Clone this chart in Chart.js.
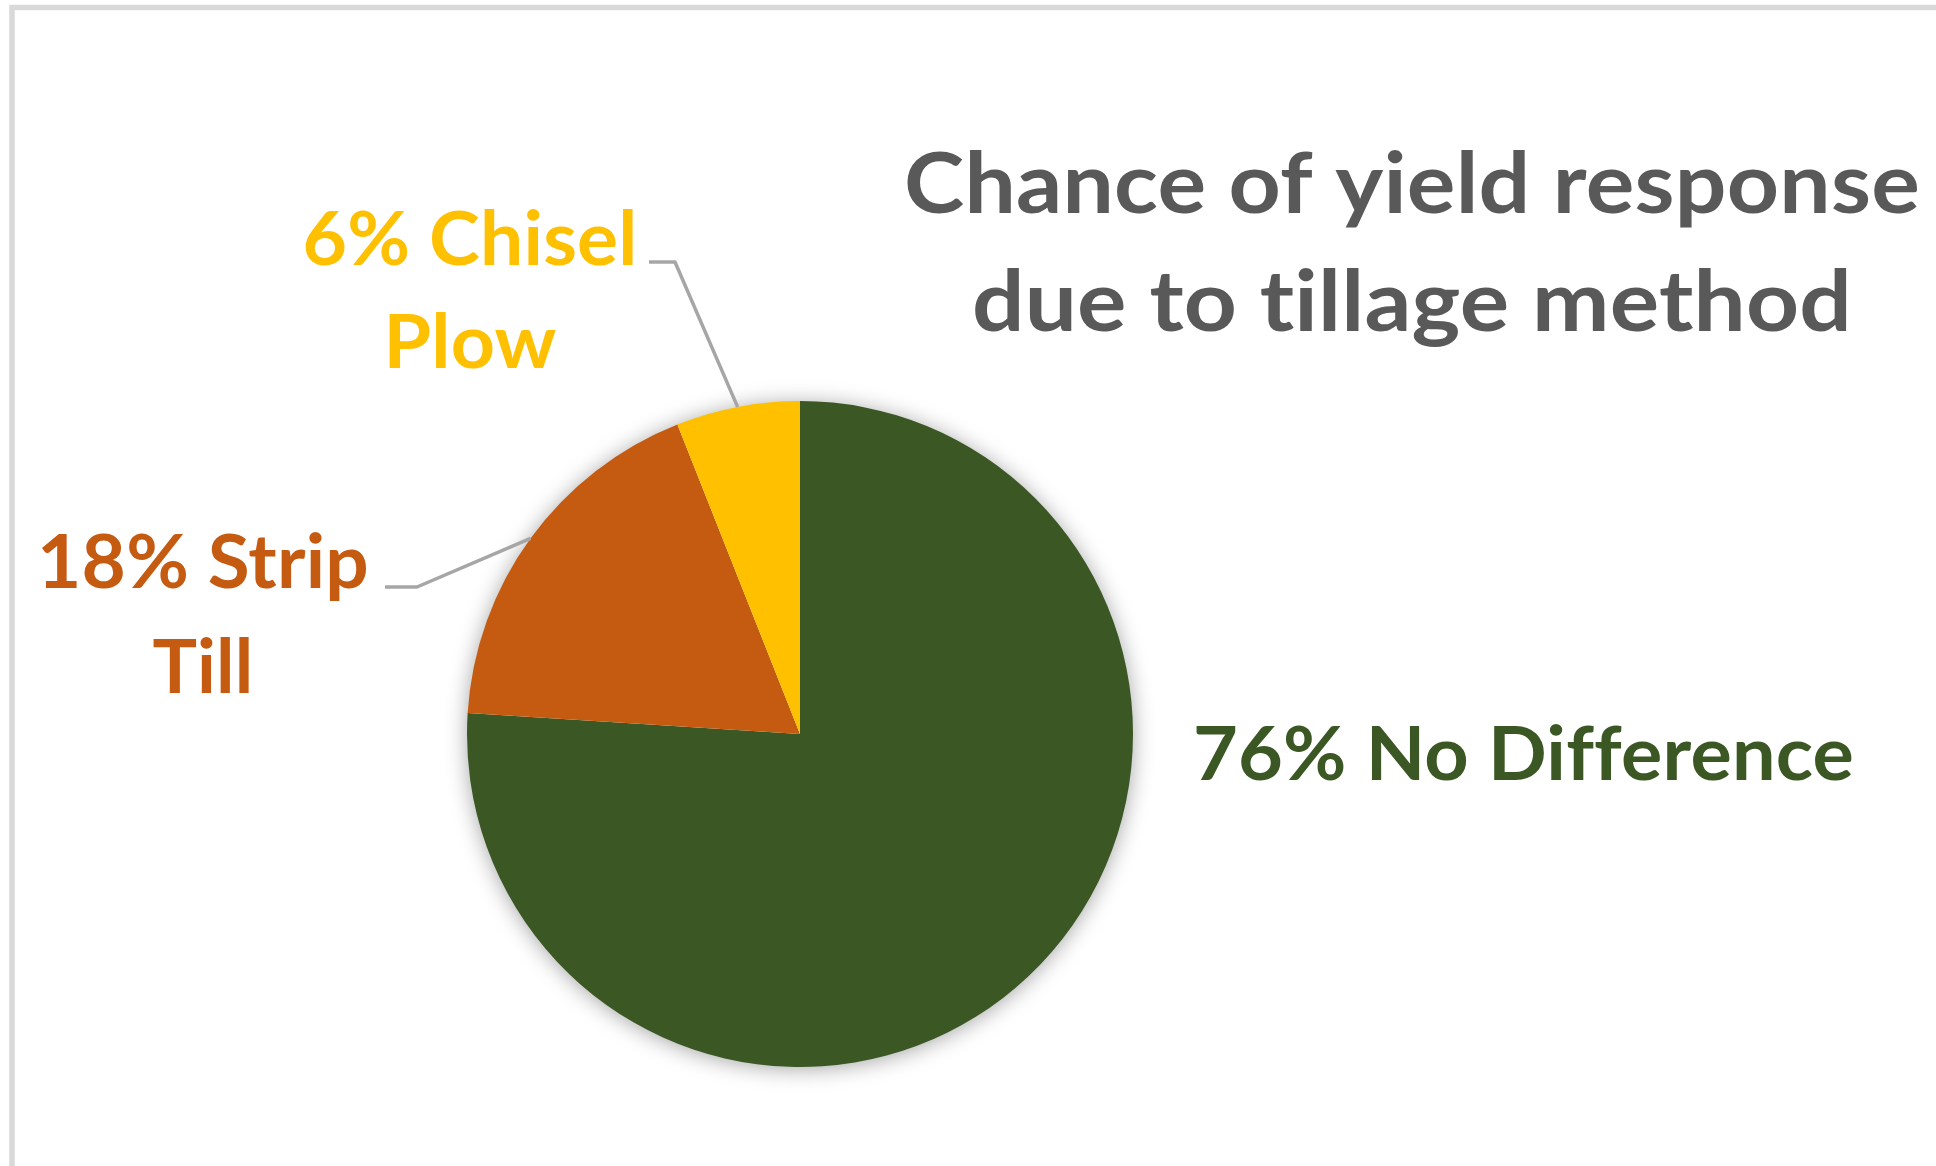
<!DOCTYPE html>
<html>
<head>
<meta charset="utf-8">
<script src="https://cdn.jsdelivr.net/npm/chart.js@4.4.0/dist/chart.umd.min.js"></script>
<style>
  html, body { margin: 0; padding: 0; background: #fff; }
  canvas { display: block; }
</style>
</head>
<body>
<canvas id="tillageChart" width="1936" height="1166"></canvas>
<script>
const categories = ['No Difference', 'Strip Till', 'Chisel Plow'];
const percents = [76, 18, 6];
const wrapLabel = [false, true, true];
const sliceColors = ['#3A5724', '#C55A11', '#FFC000'];
const titleLines = ['Chance of yield response', 'due to tillage method'];

// "76% No Difference", or "18% Strip" + "Till"
function labelLines(i) {
  const text = percents[i] + '% ' + categories[i];
  if (!wrapLabel[i]) return [text];
  const words = categories[i].split(' ');
  return [percents[i] + '% ' + words[0], words.slice(1).join(' ')];
}

// where Excel put the labels (full size px)
const labelLayout = [
  { x: 1193, align: 'left', lines: [{ y: 780, w: 661 }] },
  { x: 203, align: 'center', lines: [{ y: 588, w: 332 }, { y: 693, w: 101 }], leader: [[385, 587], [417, 587]] },
  { x: 470, align: 'center', lines: [{ y: 265, w: 335 }, { y: 368, w: 173 }], leader: [[649, 262], [675, 262]] }
];
const titleLayout = { x: 1412, lines: [{ y: 213, w: 1016 }, { y: 331, w: 880 }] };

// squeeze text to the given width, Calibri is narrower than Lato
function fitText(ctx, text, x, y, width, align) {
  const w = ctx.measureText(text).width;
  const sx = width / w;
  ctx.save();
  ctx.translate(x, y);
  ctx.scale(sx, 1);
  ctx.textAlign = align;
  ctx.textBaseline = 'alphabetic';
  ctx.fillText(text, 0, 0);
  ctx.restore();
}

const decorations = {
  id: 'decorations',
  beforeDraw(chart) {
    const ctx = chart.ctx;
    ctx.save();
    ctx.fillStyle = '#fff';
    ctx.fillRect(0, 0, chart.width, chart.height);
    ctx.strokeStyle = '#D9D9D9';
    ctx.lineWidth = 5.5;
    ctx.strokeRect(12, 7.5, 3000, 3000);
    ctx.restore();
  },
  beforeDatasetsDraw(chart) {
    const arc = chart.getDatasetMeta(0).data[0];
    const ctx = chart.ctx;
    ctx.save();
    ctx.shadowColor = 'rgba(0,0,0,0.38)';
    ctx.shadowBlur = 22;
    ctx.shadowOffsetY = 2;
    ctx.fillStyle = '#fff';
    ctx.beginPath();
    ctx.arc(arc.x, arc.y, arc.outerRadius - 1, 0, Math.PI * 2);
    ctx.fill();
    ctx.restore();
  },
  afterDatasetsDraw(chart) {
    const ctx = chart.ctx;
    const arcs = chart.getDatasetMeta(0).data;
    ctx.save();

    // leader lines to the middle of the slice edge
    ctx.strokeStyle = '#A6A6A6';
    ctx.lineWidth = 3.5;
    ctx.lineJoin = 'round';
    labelLayout.forEach((l, i) => {
      if (!l.leader) return;
      const a = arcs[i];
      const mid = (a.startAngle + a.endAngle) / 2;
      ctx.beginPath();
      ctx.moveTo(l.leader[0][0], l.leader[0][1]);
      ctx.lineTo(l.leader[1][0], l.leader[1][1]);
      ctx.lineTo(a.x + Math.cos(mid) * a.outerRadius, a.y + Math.sin(mid) * a.outerRadius);
      ctx.stroke();
    });

    // a tiny letter spacing keeps Lato from using its ff / ti ligatures
    if ('letterSpacing' in ctx) ctx.letterSpacing = '0.2px';

    // data labels
    ctx.font = 'bold 74px Lato';
    labelLayout.forEach((l, i) => {
      ctx.fillStyle = sliceColors[i];
      labelLines(i).forEach((txt, k) => {
        fitText(ctx, txt, l.x, l.lines[k].y, l.lines[k].w, l.align);
      });
    });

    // title
    ctx.font = 'bold 85px Lato';
    ctx.fillStyle = '#595959';
    titleLines.forEach((txt, k) => {
      fitText(ctx, txt, titleLayout.x, titleLayout.lines[k].y, titleLayout.lines[k].w, 'center');
    });
    ctx.restore();
  }
};

new Chart(document.getElementById('tillageChart').getContext('2d'), {
  type: 'pie',
  data: {
    labels: categories,
    datasets: [{
      data: percents,
      backgroundColor: sliceColors,
      borderWidth: 0
    }]
  },
  options: {
    responsive: false,
    animation: false,
    devicePixelRatio: 1,
    layout: {
      padding: { left: 467, right: 803, top: 401, bottom: 99 }
    },
    plugins: {
      legend: { display: false },
      tooltip: { enabled: false },
      title: { display: false }
    }
  },
  plugins: [decorations]
});
</script>
</body>
</html>
